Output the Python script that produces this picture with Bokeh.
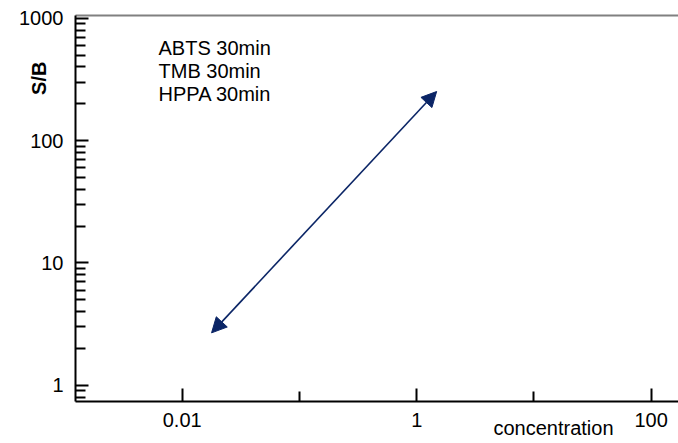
from bokeh.plotting import figure
from bokeh.models import (FixedTicker, Label, Arrow, NormalHead, LogAxis,
                          CustomJSTickFormatter)
from bokeh.embed import file_html
from bokeh.resources import INLINE

# ---- data ----
x_major_ticks = [0.01, 1, 100]
x_minor_ticks = [0.1, 10]
y_major_ticks = [1, 10, 100, 1000]
y_minor_ticks = [0.8, 0.9,
                 2, 3, 4, 5, 6, 7, 8, 9,
                 20, 30, 40, 50, 60, 70, 80, 90,
                 200, 300, 400, 500, 600, 700, 800, 900]
x_limits = [0.00123, 171.0]
y_limits = [0.736, 1054.0]
series_labels = ["ABTS 30min", "TMB 30min", "HPPA 30min"]
arrow_x = [0.0178, 1.48]
arrow_y = [2.68, 252.0]
x_title = "concentration"
y_title = "S/B"

FONT = "Liberation Sans"
FS = "20px"
NAVY = "#0b2566"
EM, EN, NB = "\u2003", "\u2002", "\u00a0"   # invisible spacing used to shift titles

p = figure(width=678, height=443,
           x_axis_type="log", y_axis_type="log",
           x_range=tuple(x_limits), y_range=tuple(y_limits),
           output_backend="svg", toolbar_location=None,
           min_border_left=75, min_border_right=0,
           min_border_top=15, min_border_bottom=42,
           background_fill_color="white", border_fill_color="white")
p.outline_line_color = None
p.xgrid.visible = False
p.ygrid.visible = False

fmt = CustomJSTickFormatter(code="return tick.toString();")
p.xaxis.ticker = FixedTicker(ticks=x_major_ticks, minor_ticks=x_minor_ticks)
p.yaxis.ticker = FixedTicker(ticks=y_major_ticks, minor_ticks=y_minor_ticks)
for ax in (p.xaxis[0], p.yaxis[0]):
    ax.formatter = fmt
    ax.axis_line_color = "black"
    ax.axis_line_width = 2
    ax.major_tick_in = 13
    ax.major_tick_out = 0
    ax.minor_tick_in = 10
    ax.minor_tick_out = 0
    ax.major_tick_line_width = 2
    ax.minor_tick_line_width = 2
    ax.major_tick_line_color = "black"
    ax.minor_tick_line_color = "black"
    ax.major_label_text_font = FONT
    ax.major_label_text_font_size = FS
    ax.major_label_text_color = "black"
    ax.axis_label_text_font = FONT
    ax.axis_label_text_font_size = FS
    ax.axis_label_text_color = "black"
    ax.axis_label_align = "end"
    ax.axis_label_standoff_mode = "axis"
p.xaxis.major_label_standoff = 11
p.yaxis.major_label_standoff = 12

# axis titles: anchored at the axis end, shifted along the axis by trailing spacing
p.xaxis.axis_label = x_title + EM * 12 + EN
p.xaxis.axis_label_text_font_style = "normal"
p.xaxis.axis_label_standoff = 15
p.yaxis.axis_label = y_title + EM * 6 + NB
p.yaxis.axis_label_text_font_style = "bold"
p.yaxis.axis_label_standoff = 26

top = LogAxis(ticker=FixedTicker(ticks=[]), axis_line_color="#808080",
              axis_line_width=2, major_label_text_font_size="0px",
              major_tick_in=0, major_tick_out=0, minor_tick_in=0, minor_tick_out=0)
p.add_layout(top, "above")

# legend-like text block
for i, txt in enumerate(series_labels):
    p.add_layout(Label(x=83, y=354 - 23.3 * i, x_units="screen", y_units="screen",
                       text=txt, text_font=FONT, text_font_size=FS,
                       text_color="black", text_baseline="alphabetic",
                       text_align="left"))

# double-headed arrow
p.add_layout(Arrow(x_start=arrow_x[0], y_start=arrow_y[0],
                   x_end=arrow_x[1], y_end=arrow_y[1],
                   line_color=NAVY, line_width=1.6,
                   start=NormalHead(size=15, fill_color=NAVY, line_color=NAVY),
                   end=NormalHead(size=15, fill_color=NAVY, line_color=NAVY)))

open("out.html", "w").write(file_html(p, INLINE))
